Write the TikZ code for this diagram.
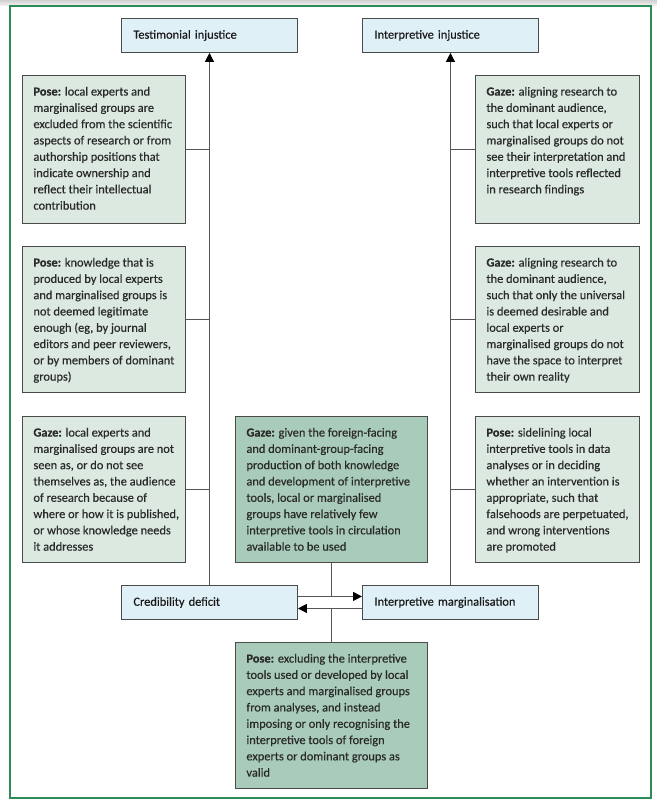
\documentclass[tikz,border=0pt]{standalone}
\usepackage{fontspec}
\setmainfont{Carlito}[FakeBold=0.35]
\usetikzlibrary{arrows.meta,calc}
\definecolor{lblue}{HTML}{E0F0F7}
\definecolor{lgreen}{HTML}{DBE9E1}
\definecolor{dgreen}{HTML}{A8CCB9}
\definecolor{boxline}{HTML}{4A4A4A}
\definecolor{connline}{HTML}{555555}
\definecolor{txt}{HTML}{2A2A2A}
\definecolor{framegreen}{HTML}{2E8B57}
\newcommand\boxtxt[3]{\parbox[t][#2][t]{#1}{\raggedright #3}}
\newcommand\bodyfont{\fontsize{12.4bp}{16.3bp}\selectfont}
\begin{document}
\begin{tikzpicture}[x=1bp,y=-1bp,
  box/.style={draw=boxline, line width=0.9bp, anchor=north west, inner xsep=11bp, inner ysep=11.5bp, font=\bodyfont, text=txt},
  lbox/.style={box, fill=lgreen},
  dbox/.style={box, fill=dgreen},
  hbox/.style={draw=boxline, line width=0.9bp, anchor=north west, fill=lblue, inner xsep=12bp, inner ysep=0bp,
    text width=152bp, align=left, minimum height=34bp, font=\bodyfont, text=black!90},
  conn/.style={draw=connline, line width=1.1bp},
  arr/.style={conn, -{Triangle[length=9bp,width=9bp,color=black]}},
  frame/.style={draw=framegreen, line width=1.6bp}
]
\useasboundingbox (0,0) rectangle (657,809);
\fill[top color=black!18, bottom color=black!4] (0,0) rectangle (657,6);
\draw[frame] (10,6) rectangle (651,798);

% heading boxes
\node[hbox] (ti) at (121,18) {Testimonial injustice};
\node[hbox] (ii) at (362,18) {Interpretive injustice};
\node[hbox] (cd) at (121,585) {Credibility deficit};
\node[hbox] (im) at (362,585) {Interpretive marginalisation};

% left column
\node[lbox] (p1) at (22,75) {\boxtxt{141bp}{125bp}{\mbox{\textbf{Pose:} local experts and}\\
\mbox{marginalised groups are}\\
\mbox{excluded from the scientific}\\
\mbox{aspects of research or from}\\
\mbox{authorship positions that}\\
\mbox{indicate ownership and}\\
\mbox{reflect their intellectual}\\
\mbox{contribution}}};
\node[lbox] (p2) at (22,246) {\boxtxt{141bp}{123bp}{\mbox{\textbf{Pose:} knowledge that is}\\
\mbox{produced by local experts}\\
\mbox{and marginalised groups is}\\
\mbox{not deemed legitimate}\\
\mbox{enough (eg, by journal}\\
\mbox{editors and peer reviewers,}\\
\mbox{or by members of dominant}\\
\mbox{groups)}}};
\node[lbox] (g3) at (22,416) {\boxtxt{141bp}{123bp}{\mbox{\textbf{Gaze:} local experts and}\\
\mbox{marginalised groups are not}\\
\mbox{seen as, or do not see}\\
\mbox{themselves as, the audience}\\
\mbox{of research because of}\\
\mbox{where or how it is published,}\\
\mbox{or whose knowledge needs}\\
\mbox{it addresses}}};

% right column
\node[lbox] (g1) at (475,75) {\boxtxt{142bp}{125bp}{\mbox{\textbf{Gaze:} aligning research to}\\
\mbox{the dominant audience,}\\
\mbox{such that local experts or}\\
\mbox{marginalised groups do not}\\
\mbox{see their interpretation and}\\
\mbox{interpretive tools reflected}\\
\mbox{in research findings}}};
\node[lbox] (g2) at (475,246) {\boxtxt{142bp}{123bp}{\mbox{\textbf{Gaze:} aligning research to}\\
\mbox{the dominant audience,}\\
\mbox{such that only the universal}\\
\mbox{is deemed desirable and}\\
\mbox{local experts or}\\
\mbox{marginalised groups do not}\\
\mbox{have the space to interpret}\\
\mbox{their own reality}}};
\node[lbox] (p3) at (475,416) {\boxtxt{142bp}{123bp}{\mbox{\textbf{Pose:} sidelining local}\\
\mbox{interpretive tools in data}\\
\mbox{analyses or in deciding}\\
\mbox{whether an intervention is}\\
\mbox{appropriate, such that}\\
\mbox{falsehoods are perpetuated,}\\
\mbox{and wrong interventions}\\
\mbox{are promoted}}};

% centre boxes
\node[dbox] (c1) at (235,416) {\boxtxt{170bp}{123bp}{\mbox{\textbf{Gaze:} given the foreign-facing}\\
\mbox{and dominant-group-facing}\\
\mbox{production of both knowledge}\\
\mbox{and development of interpretive}\\
\mbox{tools, local or marginalised}\\
\mbox{groups have relatively few}\\
\mbox{interpretive tools in circulation}\\
\mbox{available to be used}}};
\node[dbox] (c2) at (235,642) {\boxtxt{170bp}{123bp}{\mbox{\textbf{Pose:} excluding the interpretive}\\
\mbox{tools used or developed by local}\\
\mbox{experts and marginalised groups}\\
\mbox{from analyses, and instead}\\
\mbox{imposing or only recognising the}\\
\mbox{interpretive tools of foreign}\\
\mbox{experts or dominant groups as}\\
\mbox{valid}}};

% arrow end points
\coordinate (ta) at ([yshift=6bp]cd.east);
\coordinate (tb) at ([yshift=-6bp]im.west);

% spines
\draw[arr] (cd.north) -- (cd.north |- ti.south);
\draw[arr] (im.north) -- (im.north |- ii.south);
% stubs
\draw[conn] (p1.east) -- (p1.east -| cd.north);
\draw[conn] (p2.east) -- (p2.east -| cd.north);
\draw[conn] (g3.east) -- (g3.east -| cd.north);
\draw[conn] (g1.west) -- (g1.west -| im.north);
\draw[conn] (g2.west) -- (g2.west -| im.north);
\draw[conn] (p3.west) -- (p3.west -| im.north);
% horizontal arrows
\draw[arr] (ta) -- (ta -| im.west);
\draw[arr] (tb) -- (tb -| cd.east);
\draw[conn] (c1.south) -- (c1.south |- ta);
\draw[conn] (c2.north) -- (c2.north |- tb);
\end{tikzpicture}
\end{document}
